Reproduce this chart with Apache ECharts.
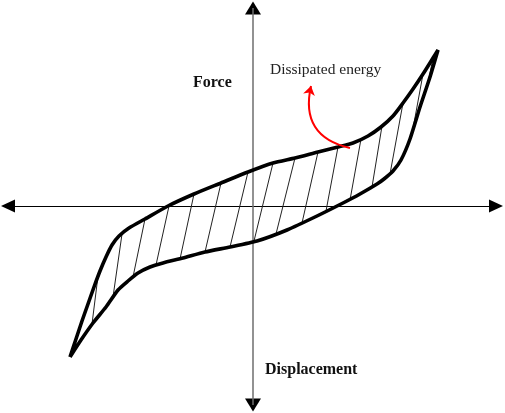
<!DOCTYPE html>
<html>
<head>
<meta charset="utf-8">
<title>Hysteresis loop</title>
<script src="https://cdn.jsdelivr.net/npm/echarts@6.0.0/dist/echarts.min.js"></script>
<style>
  html, body { margin: 0; padding: 0; background: #fff; }
  #chart { width: 505px; height: 413px; }
</style>
</head>
<body>
<div id="chart"></div>
<script>
// [displacement, force], origin where the two axes cross
const upperBranch = [
  [-183, -151], [-177, -133], [-171, -115], [-165, -98], [-159, -81], [-153, -65],
  [-147, -51], [-141, -39], [-134, -30], [-124, -22], [-108, -13],
  [-85, 0], [-59, 12], [-32, 23], [-5, 34], [20, 43], [42, 48], [65, 54],
  [85, 59], [100, 63], [115, 70], [128, 79], [140, 90], [150, 103], [160, 117],
  [170, 132], [180, 148], [185, 156]
];
const lowerBranch = [
  [185, 156], [177, 129], [167, 99], [157, 67], [148, 46], [140, 35], [131, 27],
  [124, 22], [107, 12], [90, 3], [64, -10], [34, -24], [4, -35], [-23, -41],
  [-48, -46], [-70, -52], [-90, -57], [-103, -61], [-115, -67], [-125, -75],
  [-135, -84], [-147, -101], [-160, -117], [-172, -134], [-183, -151]
];
// hatching: [x top, y top, x bottom, y bottom]
const hatchLines = [
  [-155, -70, -161, -118], [-131, -28, -140, -91], [-108, -13, -120, -71],
  [-84, 0, -97, -59], [-59, 12, -73, -53], [-32, 23, -48, -46], [-5, 34, -23, -41],
  [20, 43, 1, -35], [42, 48, 23, -28], [65, 54, 49, -17], [85, 59, 73, -5],
  [108, 67, 97, 6], [129, 80, 119, 19], [150, 103, 137, 32], [170, 132, 159, 72],
  [180, 148, 174, 118]
];
// red pointer: start on the loop, tip under the label
const arrowPath = [[97, 58], [58, 120]];

const xLabel = 'Displacement';
const yLabel = 'Force';
const noteLabel = 'Dissipated energy';

const chart = echarts.init(document.getElementById('chart'));

const option = {
  animation: false,
  backgroundColor: '#ffffff',
  grid: { left: 8, right: 9, top: 8, bottom: 8 },
  xAxis: {
    type: 'value',
    min: -245,
    max: 243,
    axisLine: {
      onZero: true,
      symbol: ['triangle', 'triangle'],
      symbolSize: [13, 14],
      lineStyle: { color: '#000', width: 1 }
    },
    axisTick: { show: false },
    axisLabel: { show: false },
    splitLine: { show: false }
  },
  yAxis: {
    type: 'value',
    min: -199,
    max: 198,
    axisLine: {
      onZero: true,
      symbol: ['triangle', 'triangle'],
      symbolSize: [16, 13],
      lineStyle: { color: '#000', width: 0 }  // arrows only, the grey line is a markLine
    },
    axisTick: { show: false },
    axisLabel: { show: false },
    splitLine: { show: false }
  },
  graphic: [
    { type: 'text', x: 193, y: 83, style: { text: yLabel, font: 'bold 16px "Liberation Serif"', fill: '#111', verticalAlign: 'middle' } },
    { type: 'text', x: 265, y: 370, style: { text: xLabel, font: 'bold 16px "Liberation Serif"', fill: '#111', verticalAlign: 'middle' } },
    { type: 'text', x: 270, y: 70, style: { text: noteLabel, font: '15.5px "Liberation Serif"', fill: '#222', verticalAlign: 'middle' } }
  ],
  series: [
    {
      name: 'loop',
      type: 'line',
      data: upperBranch.concat(lowerBranch.slice(1)),
      smooth: 0.2,
      symbol: 'none',
      lineStyle: { color: '#000', width: 3.6 },
      z: 3,
      markLine: {
        silent: true,
        z: 1,
        symbol: 'none',
        label: { show: false },
        lineStyle: { color: '#6e6e6e', width: 1.5, type: 'solid' },
        data: [{ xAxis: 0 }]
      }
    },
    {
      name: 'hatch',
      type: 'lines',
      coordinateSystem: 'cartesian2d',
      silent: true,
      z: 2,
      lineStyle: { color: '#222', width: 1, opacity: 1 },
      data: hatchLines.map(h => ({ coords: [[h[0], h[1]], [h[2], h[3]]] }))
    },
    {
      name: 'pointer',
      type: 'lines',
      coordinateSystem: 'cartesian2d',
      silent: true,
      z: 4,
      symbol: ['none', 'arrow'],
      symbolSize: 9,
      lineStyle: { color: '#ff0000', width: 2, opacity: 1, curveness: 0.5 },
      data: [{ coords: arrowPath }]
    }
  ]
};

chart.setOption(option);
</script>
</body>
</html>
